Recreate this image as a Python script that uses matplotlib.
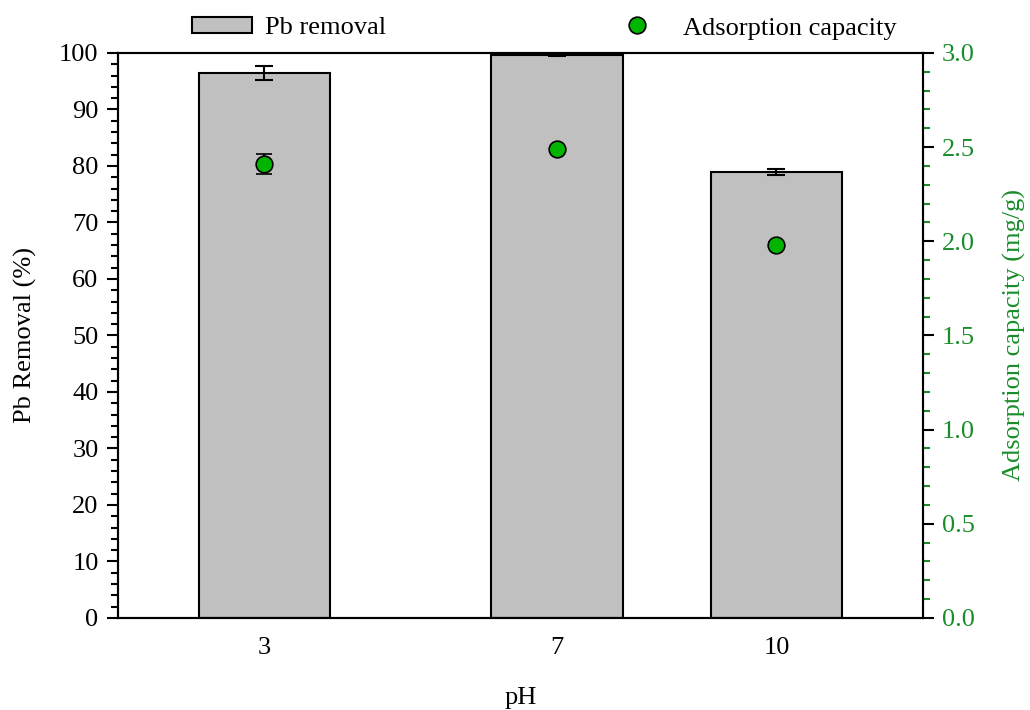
import matplotlib
matplotlib.use("Agg")
import matplotlib.pyplot as plt
from matplotlib.ticker import MultipleLocator, FormatStrFormatter
from matplotlib.lines import Line2D
from matplotlib.patches import Patch

plt.rcParams['font.family'] = ['Liberation Serif', 'DejaVu Serif']

# Data
ph = [3, 7, 10]
removal = [96.4, 99.6, 78.9]
removal_err = [1.25, 0.2, 0.55]
capacity = [2.41, 2.49, 1.98]
capacity_err = [0.055, 0.012, 0.015]

green_text = '#1a8c2a'
green_fill = '#00b400'
FS = 19

fig = plt.figure(figsize=(10.3, 7.1), dpi=100)
ax = fig.add_axes([0.1146, 0.1296, 0.7812, 0.7958])

ax.bar(ph, removal, width=1.8, color='#c0c0c0', edgecolor='black', linewidth=1.5, zorder=2)
ax.errorbar(ph, removal, yerr=removal_err, fmt='none', ecolor='black', elinewidth=1.5,
            capsize=6.5, capthick=1.5, zorder=3)

ax.set_xlim(1, 12)
ax.set_ylim(0, 100)
ax.set_xticks(ph)
ax.set_xticklabels([str(p) for p in ph])
ax.tick_params(axis='x', length=0, labelsize=FS, pad=14)
ax.yaxis.set_major_locator(MultipleLocator(10))
ax.yaxis.set_minor_locator(MultipleLocator(2))
ax.tick_params(axis='y', which='major', direction='out', length=8, width=1.5, labelsize=FS, pad=6)
ax.tick_params(axis='y', which='minor', direction='out', length=5, width=1.5)
ax.set_ylabel('Pb Removal (%)', fontsize=FS, labelpad=16)
ax.set_xlabel('pH', fontsize=FS, labelpad=20)
for s in ax.spines.values():
    s.set_linewidth(1.5)

ax2 = ax.twinx()
ax2.set_ylim(0, 3.0)
ax2.errorbar(ph, capacity, yerr=capacity_err, fmt='o', color='black', markerfacecolor=green_fill,
             markeredgecolor='black', markeredgewidth=1.2, markersize=12, ecolor='black',
             elinewidth=1.5, capsize=6, capthick=1.5, zorder=4)
ax2.yaxis.set_major_locator(MultipleLocator(0.5))
ax2.yaxis.set_minor_locator(MultipleLocator(0.1))
ax2.yaxis.set_major_formatter(FormatStrFormatter('%.1f'))
ax2.tick_params(axis='y', which='major', direction='out', length=8, width=1.5,
                labelsize=FS, labelcolor=green_text, color='black', pad=6)
ax2.tick_params(axis='y', which='minor', direction='out', length=5, width=1.5, color=green_text)
ax2.set_ylabel('Adsorption capacity (mg/g)', fontsize=FS, color=green_text, labelpad=20)
for s in ax2.spines.values():
    s.set_linewidth(1.5)

bar_handle = Patch(facecolor='#c0c0c0', edgecolor='black', linewidth=1.5, label='Pb removal')
dot_handle = Line2D([], [], linestyle='none', marker='o', markersize=12, markerfacecolor=green_fill,
                    markeredgecolor='black', markeredgewidth=1.2, label='Adsorption capacity')
leg1 = fig.legend(handles=[bar_handle], loc='center left', bbox_to_anchor=(192 / 1030, 1 - 28 / 710),
                  frameon=False, fontsize=FS, borderpad=0, borderaxespad=0,
                  handlelength=2.27, handleheight=0.6, handletextpad=0.5)
leg2 = fig.legend(handles=[dot_handle], loc='center left', bbox_to_anchor=(611 / 1030, 1 - 28 / 710),
                  frameon=False, fontsize=FS, borderpad=0, borderaxespad=0,
                  handlelength=2.0, handletextpad=0.72)

fig.savefig('out.png', dpi=100)
